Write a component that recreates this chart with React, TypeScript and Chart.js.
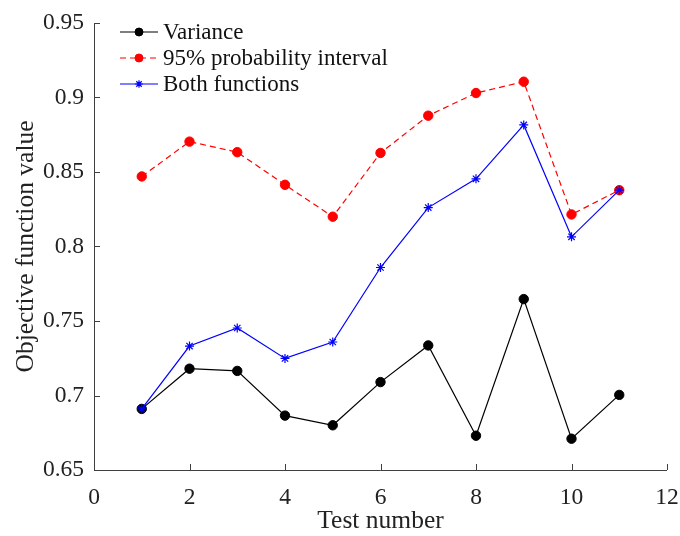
import React, { useEffect, useRef } from "react";
import { Chart, registerables } from "chart.js";
import { drawPoint } from "chart.js/helpers";

Chart.register(...registerables);

const testNumbers = [1, 2, 3, 4, 5, 6, 7, 8, 9, 10, 11];
const varianceValues = [0.691, 0.718, 0.7165, 0.6865, 0.68, 0.709, 0.7336, 0.673, 0.7647, 0.671, 0.7004];
const intervalValues = [0.847, 0.8704, 0.8633, 0.8414, 0.82, 0.8628, 0.8878, 0.903, 0.9106, 0.8215, 0.8378];
const bothValues = [0.691, 0.7332, 0.7453, 0.7249, 0.7359, 0.7859, 0.8261, 0.8454, 0.8816, 0.8065, 0.8378];
const seriesLabels = ["Variance", "95% probability interval", "Both functions"];
const xTickValues = [0, 2, 4, 6, 8, 10, 12];
const yTickValues = [0.65, 0.7, 0.75, 0.8, 0.85, 0.9, 0.95];
const xTitle = "Test number";
const yTitle = "Objective function value";

const FONT = "'Liberation Serif', 'Times New Roman', serif";
const AXIS_COLOR = "#404040";
const TEXT_COLOR = "#222222";

const axesPlugin = {
  id: "matlabAxes",
  afterDatasetsDraw(chart: any) {
    const { ctx, chartArea, scales } = chart;
    const x = scales.x;
    const y = scales.y;
    ctx.save();
    ctx.strokeStyle = AXIS_COLOR;
    ctx.lineWidth = 1;
    ctx.setLineDash([]);
    ctx.beginPath();
    ctx.moveTo(chartArea.left + 0.5, chartArea.top);
    ctx.lineTo(chartArea.left + 0.5, chartArea.bottom + 0.5);
    ctx.lineTo(chartArea.right, chartArea.bottom + 0.5);
    ctx.stroke();
    const tl = 6;
    ctx.beginPath();
    for (const v of xTickValues) {
      const px = Math.round(x.getPixelForValue(v)) + 0.5;
      ctx.moveTo(px, chartArea.bottom);
      ctx.lineTo(px, chartArea.bottom - tl);
    }
    for (const v of yTickValues) {
      const py = Math.round(y.getPixelForValue(v)) + 0.5;
      ctx.moveTo(chartArea.left, py);
      ctx.lineTo(chartArea.left + tl, py);
    }
    ctx.stroke();

    // legend
    const rowY = [32, 58, 84];
    const lineX0 = 120;
    const lineX1 = 158;
    const textX = 163;
    ctx.font = `23px ${FONT}`;
    ctx.textBaseline = "middle";
    ctx.textAlign = "left";
    chart.data.datasets.forEach((ds: any, i: number) => {
      const yy = rowY[i];
      ctx.save();
      ctx.strokeStyle = ds.borderColor;
      ctx.lineWidth = ds.borderWidth;
      ctx.setLineDash(ds.borderDash || []);
      ctx.beginPath();
      ctx.moveTo(lineX0, yy);
      ctx.lineTo(lineX1, yy);
      ctx.stroke();
      ctx.setLineDash([]);
      ctx.fillStyle = ds.pointBackgroundColor;
      ctx.strokeStyle = ds.pointBorderColor;
      ctx.lineWidth = ds.pointBorderWidth;
      drawPoint(ctx, { pointStyle: ds.pointStyle, radius: ds.pointRadius * 0.85, borderWidth: ds.pointBorderWidth, rotation: 0 }, (lineX0 + lineX1) / 2, yy);
      ctx.restore();
      ctx.fillStyle = "#111111";
      ctx.fillText(ds.label, textX, yy + 1);
    });
    ctx.restore();
  },
};

export default function App() {
  const ref = useRef<HTMLCanvasElement>(null);
  useEffect(() => {
    document.body.style.margin = "0";
    const canvas = ref.current!;
    const mk = (vals: number[]) => testNumbers.map((t, i) => ({ x: t, y: vals[i] }));
    const chart = new Chart(canvas, {
      type: "line",
      data: {
        datasets: [
          {
            label: seriesLabels[0],
            data: mk(varianceValues),
            borderColor: "#000000",
            backgroundColor: "#000000",
            borderWidth: 1.2,
            pointStyle: "circle",
            pointRadius: 4.7,
            pointBackgroundColor: "#000000",
            pointBorderColor: "#000000",
            pointBorderWidth: 1,
            order: 2,
          },
          {
            label: seriesLabels[1],
            data: mk(intervalValues),
            borderColor: "#ff0000",
            backgroundColor: "#ff0000",
            borderWidth: 1.2,
            borderDash: [6, 4],
            pointStyle: "circle",
            pointRadius: 4.7,
            pointBackgroundColor: "#ff0000",
            pointBorderColor: "#ff0000",
            pointBorderWidth: 1,
            order: 1,
          },
          {
            label: seriesLabels[2],
            data: mk(bothValues),
            borderColor: "#0000ff",
            backgroundColor: "#0000ff",
            borderWidth: 1.2,
            pointStyle: "star",
            pointRadius: 4.5,
            pointBackgroundColor: "#0000ff",
            pointBorderColor: "#0000ff",
            pointBorderWidth: 1.2,
            order: 0,
          },
        ],
      },
      options: {
        responsive: false,
        animation: false,
        devicePixelRatio: 1,
        layout: { padding: { top: 23, right: 13, left: 0, bottom: 0 } },
        plugins: { legend: { display: false }, tooltip: { enabled: false } },
        elements: { line: { tension: 0 } },
        scales: {
          x: {
            type: "linear",
            min: 0,
            max: 12,
            afterBuildTicks: (s: any) => {
              s.ticks = xTickValues.map((v) => ({ value: v }));
            },
            ticks: {
              color: TEXT_COLOR,
              font: { family: FONT, size: 23.5 },
              padding: 14,
              maxRotation: 0,
              callback: (v: any) => String(v),
            },
            grid: { display: false, drawTicks: false },
            border: { display: false },
            title: {
              display: true,
              text: xTitle,
              color: TEXT_COLOR,
              font: { family: FONT, size: 25.5 },
              padding: { top: 0, bottom: -1 },
            },
            afterFit: (s: any) => {
              s.height = 66;
              s.paddingLeft = 0;
              s.paddingRight = 0;
            },
          },
          y: {
            type: "linear",
            min: 0.65,
            max: 0.95,
            afterBuildTicks: (s: any) => {
              s.ticks = yTickValues.map((v) => ({ value: v }));
            },
            ticks: {
              color: TEXT_COLOR,
              font: { family: FONT, size: 23.5 },
              padding: 10,
              callback: (v: any) => String(parseFloat(Number(v).toFixed(2))),
            },
            grid: { display: false, drawTicks: false },
            border: { display: false },
            title: {
              display: true,
              text: yTitle,
              color: TEXT_COLOR,
              font: { family: FONT, size: 25.5 },
              padding: { top: 11, bottom: 0 },
            },
            afterFit: (s: any) => {
              s.width = 94;
              s.paddingTop = 0;
              s.paddingBottom = 0;
            },
          },
        },
      },
      plugins: [axesPlugin],
    });
    return () => chart.destroy();
  }, []);
  return <canvas ref={ref} width={680} height={536} style={{ display: "block" }} />;
}
